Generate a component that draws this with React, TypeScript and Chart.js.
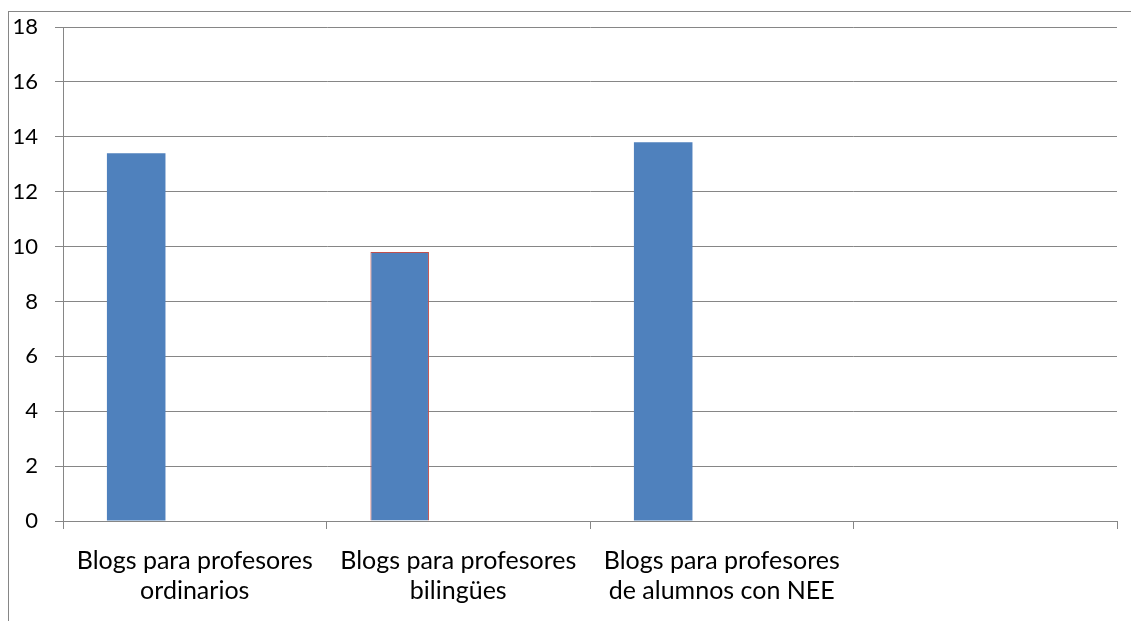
import React, { useEffect, useRef } from "react";
import { Chart, registerables } from "chart.js";

Chart.register(...registerables);

const categories: (string | string[])[] = [
  ["Blogs para profesores", "ordinarios"],
  ["Blogs para profesores", "bilingües"],
  ["Blogs para profesores", "de alumnos con NEE"],
  "",
];
const seriesA: (number | null)[] = [13.4, 9.8, 13.8, null];
const seriesB: (number | null)[] = [null, null, null, null];
const seriesC: (number | null)[] = [null, null, null, null];
const yTicks = { min: 0, max: 18, step: 2 };

const BLUE = "#4F81BD";
const RED = "#C0504D";
const GRID = "#868686";

export default function App() {
  const ref = useRef<HTMLCanvasElement | null>(null);

  useEffect(() => {
    document.body.style.margin = "0";
    if (!ref.current) return;
    const chart = new Chart(ref.current, {
      type: "bar",
      data: {
        labels: categories,
        datasets: [
          {
            label: "A",
            data: seriesA,
            backgroundColor: BLUE,
            borderColor: [BLUE, RED, BLUE, BLUE],
            borderWidth: [0, 1, 0, 0] as any,
            categoryPercentage: 3 / 4.5,
            barPercentage: 1,
          },
          {
            label: "B",
            data: seriesB,
            backgroundColor: BLUE,
            categoryPercentage: 3 / 4.5,
            barPercentage: 1,
          },
          {
            label: "C",
            data: seriesC,
            backgroundColor: BLUE,
            categoryPercentage: 3 / 4.5,
            barPercentage: 1,
          },
        ],
      },
      options: {
        animation: false,
        responsive: false,
        maintainAspectRatio: false,
        layout: { padding: { left: 0, right: 14, top: 27, bottom: 0 } },
        plugins: { legend: { display: false }, tooltip: { enabled: false } },
        scales: {
          x: {
            grid: {
              display: true,
              drawOnChartArea: false,
              drawTicks: true,
              tickLength: 8,
              color: GRID,
              offset: true,
            },
            border: { display: true, color: GRID, width: 1 },
            ticks: {
              color: "#000",
              font: { family: "Lato", size: 25, lineHeight: 1.2 },
              padding: 17,
              maxRotation: 0,
              autoSkip: false,
            },
            afterFit: (scale: any) => {
              scale.height = 100;
              scale.paddingLeft = 0;
              scale.paddingRight = 0;
            },
          },
          y: {
            min: yTicks.min,
            max: yTicks.max,
            grid: {
              color: GRID,
              tickLength: 8,
              drawTicks: true,
            },
            border: { display: true, color: GRID, width: 1 },
            ticks: {
              stepSize: yTicks.step,
              color: "#000",
              font: { family: "Lato", size: 22 },
              padding: 17,
            },
            afterFit: (scale: any) => {
              scale.width = 63;
              scale.paddingTop = 0;
              scale.paddingBottom = 0;
            },
          },
        },
      },
    });
    return () => chart.destroy();
  }, []);

  return (
    <div style={{ position: "relative", width: 1131, height: 621, background: "#fff", overflow: "hidden" }}>
      <div
        style={{
          position: "absolute",
          left: 8,
          top: 11,
          width: 1200,
          height: 700,
          borderLeft: "1px solid #868686",
          borderTop: "1px solid #868686",
          boxSizing: "border-box",
        }}
      />
      <canvas ref={ref} width={1131} height={621} style={{ position: "absolute", left: 0, top: 0, display: "block" }} />
    </div>
  );
}
